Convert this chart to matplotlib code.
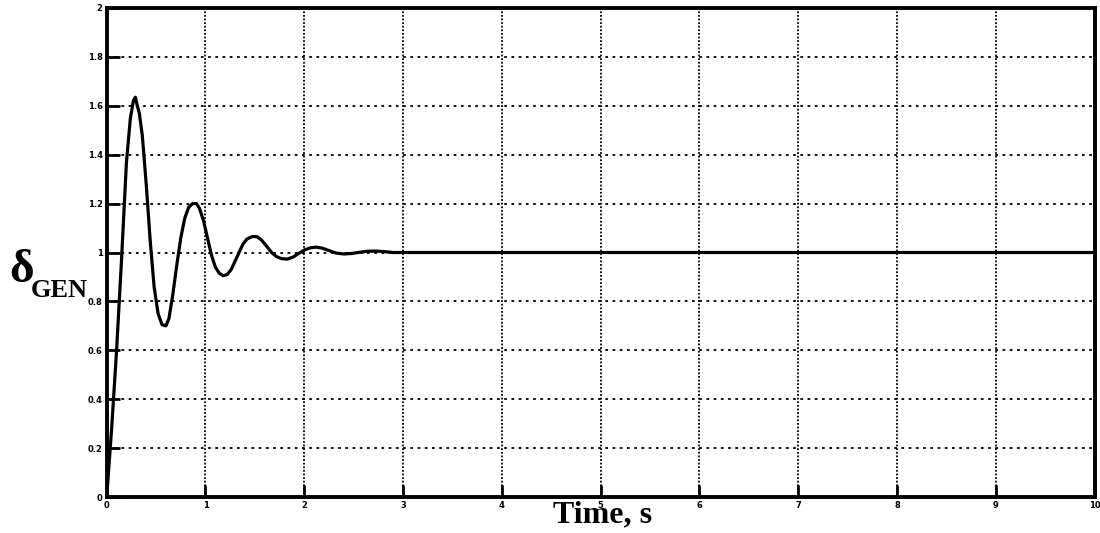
import matplotlib
matplotlib.use("Agg")
import matplotlib.pyplot as plt

# valores (tempo em s, ângulo em pu)
tempo = [0.00, 0.05, 0.10, 0.15, 0.20, 0.24, 0.27, 0.29, 0.31, 0.33,
         0.36, 0.40, 0.44, 0.48, 0.52, 0.56, 0.60, 0.63, 0.67, 0.71,
         0.75, 0.79, 0.83, 0.87, 0.91, 0.94, 0.98, 1.02, 1.06, 1.10,
         1.14, 1.18, 1.22, 1.26, 1.30, 1.34, 1.38, 1.42, 1.47, 1.52,
         1.57, 1.62, 1.67, 1.72, 1.77, 1.83, 1.89, 1.95, 2.00, 2.06,
         2.12, 2.18, 2.25, 2.32, 2.40, 2.48, 2.56, 2.64, 2.72, 2.80,
         2.90, 3.00, 10.0]
delta = [0.000, 0.280, 0.600, 0.970, 1.370, 1.550, 1.620, 1.635, 1.600, 1.570,
         1.480, 1.280, 1.050, 0.860, 0.750, 0.705, 0.700, 0.730, 0.830, 0.950,
         1.060, 1.140, 1.185, 1.200, 1.200, 1.180, 1.130, 1.060, 0.990, 0.940,
         0.915, 0.905, 0.910, 0.930, 0.965, 1.000, 1.035, 1.055, 1.065, 1.065,
         1.050, 1.025, 1.000, 0.983, 0.975, 0.973, 0.982, 0.998, 1.010, 1.019,
         1.022, 1.018, 1.008, 0.998, 0.994, 0.996, 1.001, 1.005, 1.006, 1.004,
         1.000, 1.000, 1.000]

xticks = list(range(0, 11))
yticks = [0, 0.2, 0.4, 0.6, 0.8, 1, 1.2, 1.4, 1.6, 1.8, 2]
ytick_labels = ['0', '0.2', '0.4', '0.6', '0.8', '1', '1.2', '1.4', '1.6', '1.8', '2']

fig = plt.figure(figsize=(11, 5.33), dpi=100)
ax = fig.add_axes([0.097, 0.0675, 0.898, 0.9175])

ax.plot(tempo, delta, color='black', linewidth=2.3, solid_joinstyle='round')

ax.set_xlim(0, 10)
ax.set_ylim(0, 2)
ax.set_xticks(xticks)
ax.set_yticks(yticks)
ax.set_yticklabels(ytick_labels)
ax.tick_params(direction='in', length=9, width=2, labelsize=6, pad=3)
for lbl in ax.get_xticklabels() + ax.get_yticklabels():
    lbl.set_fontweight('bold')

ax.xaxis.grid(True, color='black', linestyle=(0, (1, 1)), linewidth=1.3)
ax.yaxis.grid(True, color='black', linestyle=(0, (1.5, 2.5)), linewidth=1.3)
for s in ax.spines.values():
    s.set_linewidth(2.8)

fig.text(0.008, 0.471, 'δ', family='Liberation Serif', fontweight='bold',
         fontsize=34, ha='left', va='baseline')
fig.text(0.028, 0.443, 'GEN', family='Liberation Serif', fontweight='bold',
         fontsize=19, ha='left', va='baseline')
fig.text(0.548, 0.02, 'Time, s', family='Liberation Serif', fontweight='bold',
         fontsize=23, ha='center', va='baseline')

fig.savefig('out.png', dpi=100)
